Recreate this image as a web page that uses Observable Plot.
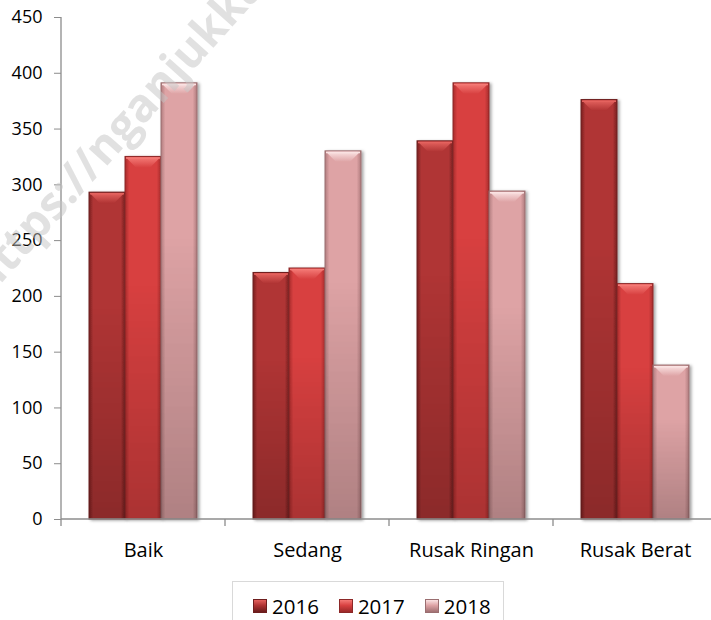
<!DOCTYPE html>
<html>
<head>
<meta charset="utf-8">
<script src="https://cdn.jsdelivr.net/npm/d3@7"></script>
<script src="https://cdn.jsdelivr.net/npm/@observablehq/plot@0.6"></script>
<style>
  html, body { margin: 0; padding: 0; background: #fff; }
  #wrap { position: relative; width: 711px; height: 620px; overflow: hidden; font-family: "Open Sans", sans-serif; }
  #chart svg { display: block; }
  #legend { position: absolute; left: 232px; top: 581px; width: 272px; height: 60px; box-sizing: border-box;
            border: 1px solid #d9d9d9; background: #fff; display: flex; align-items: flex-start; padding: 12px 0 0 20px; }
  .item { display: flex; align-items: center; margin-right: 20px; font-size: 20.5px; color: #000; line-height: 24px; }
  .sw { width: 14px; height: 14px; margin-right: 5px; box-sizing: border-box; }
</style>
</head>
<body>
<div id="wrap">
  <div id="chart"></div>
  <div id="legend"></div>
</div>
<script>
// ---- data ----
const categories = ["Baik", "Sedang", "Rusak Ringan", "Rusak Berat"];
const years = ["2016", "2017", "2018"];
const values2016 = [293, 221, 339, 376];
const values2017 = [325, 225, 391, 211];
const values2018 = [391, 330, 294, 138];
const yTicks = [0, 50, 100, 150, 200, 250, 300, 350, 400, 450];
const watermark = "https://nganjukkab.go.id";

// ---- styles ----
const palette = {
  "2016": {edge: "#7a2222", body: "#b03434", dark: "#6a1c1c", light: "#e4625e", stroke: "#6e1e1e"},
  "2017": {edge: "#a82c2c", body: "#d84141", dark: "#9a2828", light: "#f47a76", stroke: "#8c2828"},
  "2018": {edge: "#b07c7e", body: "#dea3a5", dark: "#a07072", light: "#fae2e2", stroke: "#9a6e70"}
};

const seriesValues = {"2016": values2016, "2017": values2017, "2018": values2018};
const data = categories.flatMap((c, i) => years.map(y => ({cat: c, year: y, value: seriesValues[y][i]})));

const W = 711, H = 576;
const plot = Plot.plot({
  width: W,
  height: H,
  marginLeft: 60,
  marginRight: -7,
  marginTop: 17,
  marginBottom: H - 519,
  style: {fontFamily: "'Open Sans', sans-serif", background: "transparent", overflow: "visible"},
  fx: {domain: categories, padding: 0, label: null},
  x: {domain: years, paddingInner: 0, paddingOuter: 0.743, axis: null},
  y: {domain: [0, 450], label: null},
  marks: [
    ...years.map(yr => Plot.barY(data.filter(d => d.year === yr), {
      fx: "cat", x: "year", y: "value",
      fill: `url(#g${yr})`, stroke: palette[yr].stroke, strokeWidth: 1
    })),
    ...years.map(yr => Plot.barY(data.filter(d => d.year === yr), {
      fx: "cat", x: "year", y: "value", fill: "url(#vshade)"
    })),
    Plot.axisY({ticks: yTicks, tickSize: 7, tickPadding: 12, fontSize: 18, stroke: "#8c8c8c", color: "#000", label: null}),
    Plot.axisFx({anchor: "bottom", tickSize: 0, tickPadding: 23, fontSize: 20, color: "#000", label: null})
  ]
});
document.getElementById("chart").appendChild(plot);

// ---- post-processing: gradients, bevels, axis lines, watermark ----
const svg = d3.select(plot);
const defs = svg.insert("defs", ":first-child");
years.forEach(yr => {
  const p = palette[yr];
  const g = defs.append("linearGradient").attr("id", "g" + yr).attr("x1", 0).attr("x2", 1).attr("y1", 0).attr("y2", 0);
  [[0, p.edge], [0.12, p.body], [0.5, p.body], [0.88, p.body], [1, p.edge]].forEach(([o, c]) =>
    g.append("stop").attr("offset", o).attr("stop-color", c));
  const b = defs.append("linearGradient").attr("id", "b" + yr).attr("x1", 0).attr("x2", 0).attr("y1", 0).attr("y2", 1);
  [[0, p.light], [1, p.body]].forEach(([o, c]) => b.append("stop").attr("offset", o).attr("stop-color", c));
});
const vs = defs.append("linearGradient").attr("id", "vshade").attr("x1", 0).attr("x2", 0).attr("y1", 0).attr("y2", 1);
vs.append("stop").attr("offset", 0).attr("stop-color", "#000").attr("stop-opacity", 0);
vs.append("stop").attr("offset", 0.35).attr("stop-color", "#000").attr("stop-opacity", 0);
vs.append("stop").attr("offset", 1).attr("stop-color", "#000").attr("stop-opacity", 0.16);
const f = defs.append("filter").attr("id", "shadow").attr("x", "-20%").attr("y", "-5%").attr("width", "150%").attr("height", "115%");
f.append("feDropShadow").attr("dx", 2).attr("dy", 1).attr("stdDeviation", 1.6).attr("flood-color", "#000").attr("flood-opacity", 0.35);

svg.selectAll('g[aria-label="bar"]').each(function () {
  if ((this.getAttribute("fill") || "").indexOf("vshade") < 0) this.setAttribute("filter", "url(#shadow)");
});

// bevels computed from the library's scales
const fx = plot.scale("fx"), xs = plot.scale("x"), ys = plot.scale("y");
const xOrigin = Math.min(...xs.range);
const bevelLayer = svg.append("g").attr("aria-label", "bevels");
data.forEach(d => {
  const x = fx.apply(d.cat) + xs.apply(d.year) - xOrigin;
  const w = xs.bandwidth;
  const y = ys.apply(d.value);
  const bh = 11, dd = w * 0.3;
  bevelLayer.append("polygon")
    .attr("points", `${x + 1},${y + 1} ${x + w - 1},${y + 1} ${x + w - dd},${y + bh} ${x + dd},${y + bh}`)
    .attr("fill", `url(#b${d.year})`);
  bevelLayer.append("line")
    .attr("x1", x + 1).attr("x2", x + w - 1).attr("y1", y + 1.6).attr("y2", y + 1.6)
    .attr("stroke", palette[d.year].light).attr("stroke-width", 1.5);
});

// axis lines & category boundary ticks from the scales
const y0 = ys.apply(0), yTop = ys.apply(450);
const starts = categories.map(c => fx.apply(c));
const bw = fx.bandwidth;
const x0 = starts[0], xEnd = starts[starts.length - 1] + bw;
const axes = svg.append("g").attr("stroke", "#8c8c8c").attr("stroke-width", 1.3);
axes.append("line").attr("x1", x0).attr("x2", x0).attr("y1", yTop).attr("y2", y0);
axes.append("line").attr("x1", x0).attr("x2", xEnd).attr("y1", y0).attr("y2", y0);
[...starts, xEnd].forEach(x => axes.append("line").attr("x1", x).attr("x2", x).attr("y1", y0).attr("y2", y0 + 7));

// watermark
svg.append("text")
  .attr("transform", "translate(-11,297) rotate(-48)")
  .attr("text-anchor", "start")
  .attr("font-family", "'Open Sans', sans-serif").attr("font-weight", 700).attr("font-size", 46)
  .attr("fill", "#c4c4c4").attr("fill-opacity", 0.5)
  .text(watermark);

// ---- legend ----
const legend = d3.select("#legend");
years.forEach(yr => {
  const p = palette[yr];
  const it = legend.append("div").attr("class", "item");
  it.append("div").attr("class", "sw")
    .style("background", `linear-gradient(to bottom, ${p.light} 0%, ${p.body} 45%, ${p.dark} 100%)`)
    .style("border", `1px solid ${p.stroke}`);
  it.append("span").text(yr);
});
</script>
</body>
</html>
